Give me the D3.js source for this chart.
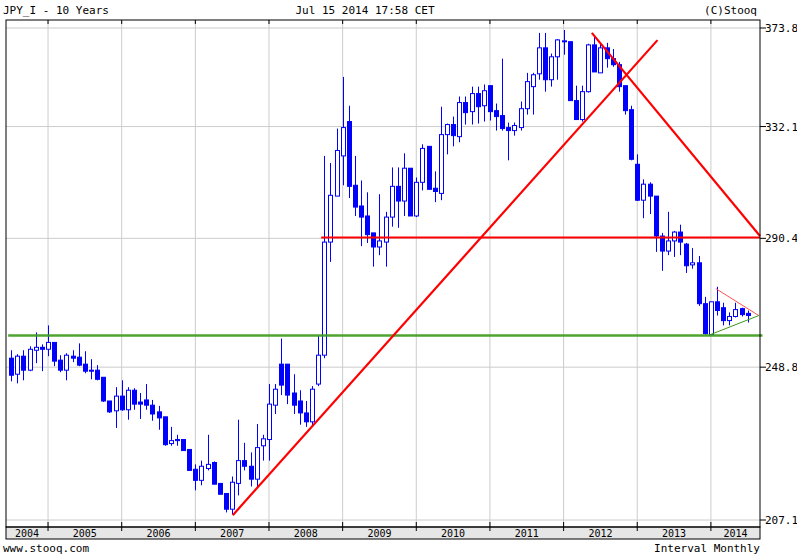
<!DOCTYPE html>
<html><head><meta charset="utf-8">
<script src="https://cdn.jsdelivr.net/npm/d3@7"></script>
<style>body{margin:0;background:#fff}text{font-family:"DejaVu Sans Mono",monospace;font-size:11px}</style>
</head><body><svg id="c" width="797" height="558"></svg>
<script>
// month index 0 = Jul 2004 ... 120 = Jul 2014
const open=[251.5,246.7,252.1,247.9,253.9,254.8,254.2,256.3,250.9,247.9,252.1,251.8,249.7,247.9,247.9,245.8,238.9,236.1,240.3,236.4,242.0,238.6,239.2,237.7,235.8,234.4,227.0,228.1,228.1,225.4,220.1,217.2,220.3,221.9,216.4,213.8,209.8,216.4,222.4,220.9,217.5,226.4,228.1,237.7,249.7,249.7,241.2,238.9,235.5,233.0,243.8,252.4,289.1,305.5,320.6,334.1,309.5,301.9,298.3,292.3,287.4,289.1,297.9,309.1,303.7,315.9,298.3,310.6,324.3,308.4,306.5,328.9,332.9,328.1,341.8,338.1,345.5,340.5,348.8,338.5,336.5,331.7,330.5,331.7,339.3,348.4,353.8,365.0,351.3,361.1,367.7,367.7,342.6,334.9,346.3,366.3,354.2,365.0,360.3,357.7,348.8,338.9,317.4,304.0,309.9,305.5,291.2,286.0,289.5,292.6,288.4,281.3,282.0,268.5,258.7,269.1,267.2,263.1,264.4,266.9,265.4];
const high=[253.9,252.7,253.9,255.1,259.4,255.7,261.6,256.3,252.4,253.0,253.9,256.0,253.6,251.2,249.4,245.8,238.9,242.9,244.9,242.9,242.6,241.2,243.8,239.2,237.5,234.4,231.6,229.4,228.1,225.4,221.4,222.4,229.4,222.2,216.4,213.8,218.2,233.6,227.2,224.6,232.4,229.4,243.8,243.8,257.5,249.7,246.7,242.0,238.9,243.2,258.4,320.6,317.9,331.3,352.5,340.5,320.6,311.3,306.9,292.3,306.2,299.8,316.2,316.2,321.6,315.9,312.4,325.1,324.3,314.7,340.1,333.3,336.1,344.3,344.3,348.4,348.4,349.3,348.8,341.4,360.3,333.7,333.7,342.2,354.2,354.2,371.6,371.6,362.5,368.9,372.9,367.7,348.8,348.8,366.8,370.7,367.2,367.2,364.5,358.9,348.8,340.5,321.2,311.7,310.6,305.5,292.3,299.8,293.0,295.2,288.8,287.0,284.3,270.7,269.1,274.0,268.8,265.7,268.8,267.2,266.3];
const low=[244.6,244.0,244.9,247.6,250.0,247.6,252.1,249.1,247.3,244.9,250.3,249.1,247.0,245.2,244.9,238.6,235.5,231.3,236.1,233.6,236.4,233.8,236.4,233.3,230.8,226.4,226.4,226.4,225.1,219.8,214.6,215.9,219.8,216.2,213.6,209.0,208.5,213.3,219.8,215.6,215.4,222.4,222.4,235.2,240.6,238.0,235.2,232.2,231.6,231.6,243.2,251.5,282.3,305.5,309.5,304.8,298.3,287.7,288.8,280.7,284.6,280.7,294.5,294.1,298.3,298.3,297.9,307.6,308.0,303.3,304.0,321.2,324.3,325.9,332.9,332.9,333.3,334.1,334.5,330.5,330.5,318.9,328.5,330.5,336.9,336.9,351.3,346.3,348.4,351.3,362.0,342.6,334.9,334.1,345.9,354.6,354.2,356.4,356.8,346.3,336.9,318.9,303.7,297.5,299.0,285.7,279.3,284.6,284.0,284.6,278.6,280.0,267.8,258.7,258.7,264.7,261.6,261.6,264.1,264.4,262.5];
const close=[246.4,252.1,247.9,254.2,254.8,254.2,256.3,250.6,247.9,252.4,251.5,249.4,247.6,247.6,245.2,238.9,235.8,240.3,236.4,242.0,238.0,238.0,237.7,235.2,234.1,226.7,227.8,227.8,225.1,219.8,217.2,220.9,221.4,216.2,213.6,209.8,216.7,222.4,220.9,217.5,225.9,228.3,238.0,242.3,243.5,240.6,237.7,235.5,233.0,242.3,252.4,289.1,305.8,322.7,331.7,309.1,301.5,297.9,291.7,287.4,289.5,297.9,309.1,303.7,315.9,298.3,310.6,323.5,308.0,307.2,328.9,332.9,328.5,341.8,337.7,345.5,340.1,346.7,338.1,336.1,331.3,330.5,332.5,339.3,350.5,353.4,365.0,351.3,361.1,368.5,368.1,342.6,334.9,346.3,366.3,354.6,365.0,360.3,357.7,348.4,338.5,319.3,304.0,309.9,305.5,291.2,286.0,289.5,292.6,289.1,281.0,282.0,268.5,259.0,269.1,266.3,263.1,264.4,266.6,265.0,264.7];
const years=[2004,2005,2006,2007,2008,2009,2010,2011,2012,2013,2014];
const yTicks=[207.1,248.8,290.4,332.1,373.8];
// trend lines: [monthIndex, value] pairs
const greenSupport=[[-0.5,258.4],[122.4,258.4]];
const redHoriz=[[50.5,290.7],[122,290.7]];
const redRise=[[36.1,208.3],[105.3,368.4]];
const redFall=[[94.6,371.6],[122,291.2]];
const triTop=[[114.8,273.4],[121.8,264.7]];
const triBottom=[[113.9,258.7],[121.8,264.7]];

const svg=d3.select("#c");
const L=6,R=760,T=20,B=527;
const x=d3.scaleLinear().domain([-0.85,122]).range([L,R]);
const y=d3.scaleLog().domain([207.1,373.8]).range([520,28]);
// grid
const yearX=years.slice(1).map(yr=>x((yr-2004)*12-6));
svg.append("g").selectAll("line").data(yearX).join("line")
 .attr("x1",d=>d).attr("x2",d=>d).attr("y1",T).attr("y2",B).attr("stroke","#cccccc");
svg.append("g").selectAll("line").data(yTicks).join("line")
 .attr("x1",L).attr("x2",R).attr("y1",d=>y(d)).attr("y2",d=>y(d)).attr("stroke","#cccccc");
// bottom band
svg.append("rect").attr("x",L).attr("y",B).attr("width",R-L).attr("height",12).attr("fill","#e6e6e6").attr("stroke","#000");
yearX.forEach(px=>{svg.append("line").attr("x1",px).attr("x2",px).attr("y1",B-5).attr("y2",B+4).attr("stroke","#000");
 svg.append("line").attr("x1",px).attr("x2",px).attr("y1",T).attr("y2",T+4).attr("stroke","#000");});
years.forEach(yr=>{const a=Math.max(L,x((yr-2004)*12-6)),b=Math.min(R,x((yr-2004)*12+6));
 svg.append("text").attr("x",(a+b)/2).attr("y",B+10).attr("text-anchor","middle").style("font-size","10px").text(yr);});
// right axis
yTicks.forEach(v=>{svg.append("line").attr("x1",R).attr("x2",R+6).attr("y1",y(v)).attr("y2",y(v)).attr("stroke","#000");
 svg.append("text").attr("x",R+5).attr("y",y(v)+4).text(v.toFixed(1));});
// candles
const data=open.map((o,i)=>({i,o,h:high[i],l:low[i],c:close[i]}));
const g=svg.append("g");
data.forEach(d=>{const cx=Math.round(x(d.i))+0.5;
 g.append("line").attr("x1",cx).attr("x2",cx).attr("y1",y(d.h)).attr("y2",y(d.l)).attr("stroke","#0000ff").attr("stroke-width",1);
 const top=y(Math.max(d.o,d.c)),bot=y(Math.min(d.o,d.c));
 const up=d.c>=d.o;
 g.append("rect").attr("x",cx-2).attr("y",top).attr("width",4).attr("height",Math.max(1,bot-top))
  .attr("fill",up?"#fff":"#0000ff").attr("stroke","#0000ff").attr("stroke-width",1);});
// lines
const ln=d3.line().x(d=>x(d[0])).y(d=>y(d[1]));
svg.append("path").attr("d",ln(greenSupport)).attr("stroke","#3a9a1a").attr("stroke-width",2.5).attr("fill","none").attr("opacity",0.9);
svg.append("path").attr("d",ln(redHoriz)).attr("stroke","#ff0000").attr("stroke-width",2.2).attr("fill","none");
svg.append("path").attr("d",ln(redRise)).attr("stroke","#ff0000").attr("stroke-width",2.2).attr("fill","none");
svg.append("path").attr("d",ln(redFall)).attr("stroke","#ff0000").attr("stroke-width",2.2).attr("fill","none");
svg.append("path").attr("d",ln(triTop)).attr("stroke","#ff5050").attr("stroke-width",1).attr("fill","none");
svg.append("path").attr("d",ln(triBottom)).attr("stroke","#3a9a1a").attr("stroke-width",1).attr("fill","none");
// frame
svg.append("rect").attr("x",L).attr("y",T).attr("width",R-L).attr("height",B-T).attr("fill","none").attr("stroke","#000");
// texts
svg.append("text").attr("x",3).attr("y",14).text("JPY_I - 10 Years");
svg.append("text").attr("x",365).attr("y",14).attr("text-anchor","middle").text("Jul 15 2014 17:58 CET");
svg.append("text").attr("x",757).attr("y",14).attr("text-anchor","end").text("(C)Stooq");
svg.append("text").attr("x",3).attr("y",552).text("www.stooq.com");
svg.append("text").attr("x",760).attr("y",552).attr("text-anchor","end").text("Interval Monthly");
</script></body></html>
